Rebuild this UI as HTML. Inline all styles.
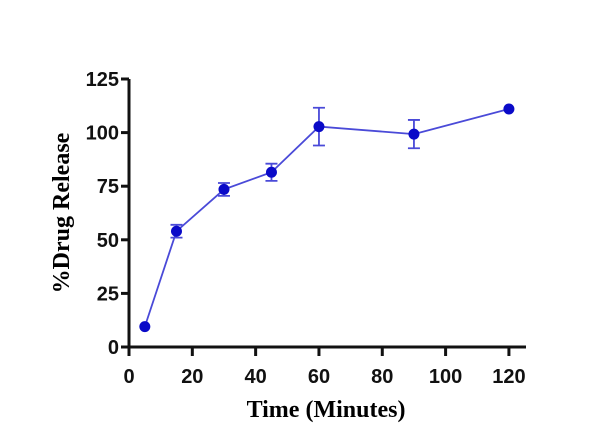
<!DOCTYPE html>
<html><head><meta charset="utf-8"><style>
html,body{margin:0;padding:0;background:#fff;}
svg{display:block;}
</style></head><body>
<svg id="chart" width="616" height="441" viewBox="0 0 616 441" xmlns="http://www.w3.org/2000/svg">
<g id="axes"></g><g id="series"></g>
<text x="0" y="0" transform="translate(69,213) rotate(-90)" text-anchor="middle" font-family="Liberation Serif, serif" font-weight="bold" font-size="24">%Drug Release</text>
<text x="326" y="417" text-anchor="middle" font-family="Liberation Serif, serif" font-weight="bold" font-size="24">Time (Minutes)</text>
</svg>
<script>
const times = [5, 15, 30, 45, 60, 90, 120];
const release = [9.5, 54, 73.5, 81.5, 102.8, 99.3, 111];
const errors = [0, 3, 3, 4, 8.8, 6.6, 0];
const xTicks = [0, 20, 40, 60, 80, 100, 120];
const yTicks = [0, 25, 50, 75, 100, 125];

const NS = "http://www.w3.org/2000/svg";
const X0 = 129, XS = 3.166, Y0 = 347, YS = 2.144;
const xs = v => X0 + v * XS;
const ys = v => Y0 - v * YS;
function mk(tag, attrs, parent){const e=document.createElementNS(NS,tag);for(const k in attrs)e.setAttribute(k,attrs[k]);parent.appendChild(e);return e;}
const axes=document.getElementById('axes'), ser=document.getElementById('series');
let e;
e=mk('line',{x1:X0,y1:ys(125),x2:X0,y2:Y0+1,stroke:'#111','stroke-width':3},axes);


e=mk('line',{x1:X0-1,y1:Y0,x2:526,y2:Y0,stroke:'#111','stroke-width':3},axes);


yTicks.forEach(t=>{
  e=mk('line',{x1:X0-8,y1:ys(t),x2:X0,y2:ys(t),stroke:'#111','stroke-width':3},axes);
  
  
  e=mk('text',{x:X0-10,y:ys(t)+7,'text-anchor':'end','font-family':'Liberation Sans, sans-serif','font-weight':'bold','font-size':20,fill:'#111'},axes);
  e.textContent=t;
  
  
});
xTicks.forEach(t=>{
  e=mk('line',{x1:xs(t),y1:Y0,x2:xs(t),y2:Y0+9,stroke:'#111','stroke-width':3},axes);
  
  
  e=mk('text',{x:xs(t),y:Y0+36,'text-anchor':'middle','font-family':'Liberation Sans, sans-serif','font-weight':'bold','font-size':20,fill:'#111'},axes);
  e.textContent=t;
  
  
});
e=mk('polyline',{points:times.map((t,i)=>xs(t)+','+ys(release[i])).join(' '),fill:'none',stroke:'#4a4ad8','stroke-width':1.8},ser);


times.forEach((t,i)=>{
  const x=xs(t);
  if(errors[i]>0){
    const y1=ys(release[i]+errors[i]), y2=ys(release[i]-errors[i]);
    e=mk('path',{d:`M${x},${y1}V${y2}M${x-6},${y1}H${x+6}M${x-6},${y2}H${x+6}`,stroke:'#4a4ad8','stroke-width':1.8,fill:'none'},ser);
    
    
  }
  e=mk('circle',{cx:x,cy:ys(release[i]),r:5.5,fill:'#0a0ac8'},ser);
  
  
});
</script>
</body></html>
